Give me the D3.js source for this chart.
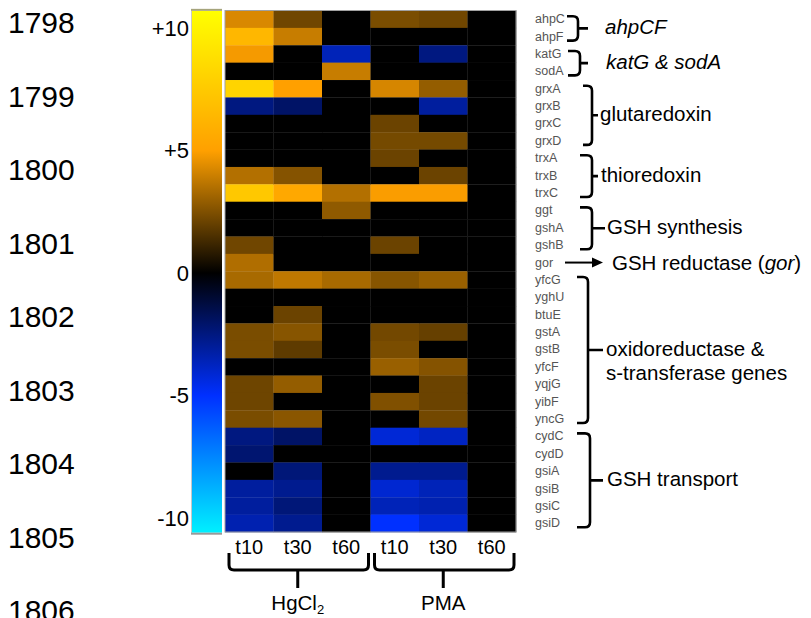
<!DOCTYPE html>
<html>
<head>
<meta charset="utf-8">
<script src="https://cdn.jsdelivr.net/npm/d3@7"></script>
<style>
  body { margin: 0; background: #fff; }
  svg text { font-family: "Liberation Sans", Arial, sans-serif; }
</style>
</head>
<body>
<div id="chart"></div>
<script>
const genes = ['ahpC', 'ahpF', 'katG', 'sodA', 'grxA', 'grxB', 'grxC', 'grxD', 'trxA', 'trxB', 'trxC',
    'ggt', 'gshA', 'gshB', 'gor', 'yfcG', 'yghU', 'btuE', 'gstA', 'gstB', 'yfcF', 'yqjG', 'yibF', 'yncG',
    'cydC', 'cydD', 'gsiA', 'gsiB', 'gsiC', 'gsiD'];
const conditions = ['HgCl2 t10', 'HgCl2 t30', 'HgCl2 t60', 'PMA t10', 'PMA t30', 'PMA t60'];
const timeLabels = ['t10', 't30', 't60', 't10', 't30', 't60'];

// log2-ish fold change per gene, one array per condition
const hgT10 = [4.25, 6.4, 4.8, 0, 8.1, -2.5, 0, 0, 0, 3.5, 7.4, 0, 0, 2.2, 3.45, 3.3, 0, 0, 2.4, 2.4, 0, 2.15, 2.15, 2.4, -2.5, -2.2, 0, -3.1, -3.1, -3.45];
const hgT30 = [2.2, 3.9, 0, 0, 5.0, -2.0, 0, 0, 0, 2.6, 5.5, 0, 0, 0, 0, 3.75, 0, 2.1, 2.65, 1.85, 0, 2.9, 0, 2.7, -2.0, 0, -2.35, -2.8, -2.35, -2.8];
const hgT60 = [0, 0, -3.6, 3.9, 0, 0, 0, 0, 0, 0, 3.5, 2.8, 0, 0, 0, 3.3, 0, 0, 0, 0, 0, 0, 0, 0, 0, 0, 0, 0, 0, 0];
const pmaT10 = [2.4, 0, 0, 0, 4.2, 0, 2.1, 2.3, 2.1, 0, 4.9, 0, 0, 2.1, 0, 2.65, 0, 0, 2.25, 2.4, 3.0, 0, 2.5, 0, -4.2, 0, -2.8, -4.1, -3.6, -5.0];
const pmaT30 = [2.2, 0, -2.5, 0, 2.9, -3.1, 0, 2.3, 0, 2.1, 4.9, 0, 0, 0, 0, 3.0, 0, 0, 2.0, 0, 2.6, 2.1, 2.1, 2.25, -3.8, 0, -2.8, -3.6, -3.45, -4.2];
const pmaT60 = [0, 0, 0, 0, 0, 0, 0, 0, 0, 0, 0, 0, 0, 0, 0, 0, 0, 0, 0, 0, 0, 0, 0, 0, 0, 0, 0, 0, 0, 0];
const series = [hgT10, hgT30, hgT60, pmaT10, pmaT30, pmaT60];

const legendTicks = [10, 5, 0, -5, -10];
const legendLabels = ['+10', '+5', '0', '-5', '-10'];
const lineNumbers = [1798, 1799, 1800, 1801, 1802, 1803, 1804, 1805, 1806];

const groups = [
    { lines: ['ahpCF'], from: 'ahpC', to: 'ahpF', italic: true },
    { lines: ['katG & sodA'], from: 'katG', to: 'sodA', italic: true },
    { lines: ['glutaredoxin'], from: 'grxA', to: 'grxD' },
    { lines: ['thioredoxin'], from: 'trxA', to: 'trxC' },
    { lines: ['GSH synthesis'], from: 'ggt', to: 'gshB' },
    { lines: ['oxidoreductase &', 's-transferase genes'], from: 'yfcG', to: 'yncG' },
    { lines: ['GSH transport'], from: 'cydC', to: 'gsiD' }
];
const treatments = ['HgCl2', 'PMA'];

const width = 811;
const height = 618;

const svg = d3.select('#chart')
    .append('svg')
    .attr('width', width)
    .attr('height', height);

const x = d3.scaleBand().domain(conditions).range([225, 516]);
const y = d3.scaleBand().domain(genes).range([10.5, 532]);
const ly = d3.scaleLinear().domain([-10, 10]).range([518, 28]);

const color = d3.scaleLinear()
    .domain([-10.7, -5, 0, 5, 10.7])
    .range(['#00f0ff', '#0030ff', '#000000', '#ffa000', '#ffff00'])
    .clamp(true);

// line numbers on the far left
const ln = d3.scaleLinear().domain([1798, 1806]).range([33, 621]);
svg.selectAll('.lineno')
    .data(lineNumbers)
    .enter().append('text')
    .attr('x', 8)
    .attr('y', d => ln(d))
    .attr('font-size', 30)
    .attr('fill', '#000')
    .text(d => d);

// colour legend bar
const grad = svg.append('defs').append('linearGradient')
    .attr('id', 'lg')
    .attr('x1', 0).attr('y1', 0).attr('x2', 0).attr('y2', 1);
const barTop = ly(10.7), barBottom = ly(-10.6);
color.domain().slice().reverse().forEach(v => {
    grad.append('stop')
        .attr('offset', (ly(v) - barTop) / (barBottom - barTop))
        .attr('stop-color', color(v));
});
svg.append('rect')
    .attr('x', 191).attr('y', barTop)
    .attr('width', 31).attr('height', barBottom - barTop)
    .attr('fill', 'url(#lg)');
svg.append('line')
    .attr('x1', 191.5).attr('x2', 191.5).attr('y1', barTop).attr('y2', barBottom)
    .attr('stroke', '#c8c8c8');
svg.append('rect')
    .attr('x', 191).attr('y', barTop - 2).attr('width', 31).attr('height', 2)
    .attr('fill', '#a5a47c');
svg.append('rect')
    .attr('x', 191).attr('y', barBottom).attr('width', 31).attr('height', 2)
    .attr('fill', '#999');

const legendAxis = svg.append('g')
    .attr('transform', 'translate(191,0)')
    .call(d3.axisLeft(ly).tickValues(legendTicks).tickSize(0).tickPadding(2)
        .tickFormat((d, i) => legendLabels[i]));
legendAxis.select('.domain').remove();
legendAxis.selectAll('text')
    .attr('font-size', 22)
    .attr('font-family', '"Liberation Sans", Arial, sans-serif')
    .attr('fill', '#000');

// heat map cells
const cells = [];
series.forEach((vals, c) => {
    vals.forEach((v, r) => cells.push({ cond: conditions[c], gene: genes[r], value: v }));
});
svg.append('g')
    .selectAll('rect')
    .data(cells)
    .enter().append('rect')
    .attr('x', d => x(d.cond))
    .attr('y', d => y(d.gene))
    .attr('width', x.bandwidth() + 0.3)
    .attr('height', y.bandwidth() + 0.3)
    .attr('fill', d => color(d.value));

svg.append('rect')
    .attr('x', 225).attr('y', 10.5)
    .attr('width', 291).attr('height', 521.5)
    .attr('fill', 'none')
    .attr('stroke', '#a0a0a0')
    .attr('stroke-width', 1);

// gene names
const geneAxis = svg.append('g')
    .attr('transform', 'translate(516,0)')
    .call(d3.axisRight(y).tickSize(0).tickPadding(19));
geneAxis.select('.domain').remove();
geneAxis.selectAll('text')
    .attr('font-size', 12.5)
    .attr('font-family', '"Liberation Sans", Arial, sans-serif')
    .attr('fill', '#555');

// time points under the columns
const colAxis = svg.append('g')
    .attr('transform', 'translate(0,532)')
    .call(d3.axisBottom(x).tickSize(0).tickPadding(8)
        .tickFormat((d, i) => timeLabels[i]));
colAxis.select('.domain').remove();
colAxis.selectAll('text')
    .attr('font-size', 20)
    .attr('font-family', '"Liberation Sans", Arial, sans-serif')
    .attr('fill', '#000');

// right-hand braces with group names
const braceLayout = {
    'ahpCF': [567, 578, 588, 605],
    'katG & sodA': [568, 580, 588, 606],
    'glutaredoxin': [583, 592, 598, 600],
    'thioredoxin': [580, 592, 598, 601],
    'GSH synthesis': [580, 592, 605, 607],
    'oxidoreductase &': [577, 588, 603, 606],
    'GSH transport': [577, 590, 603, 607]
};
groups.forEach(g => {
    const [x0, x1, xt, tx] = braceLayout[g.lines[0]];
    const y0 = y(g.from) + y.bandwidth() / 2 - 3;
    const y1 = y(g.to) + y.bandwidth() / 2 + 4;
    const ym = (y0 + y1) / 2;
    const r = 5;
    svg.append('path')
        .attr('d', `M${x0},${y0} H${x1 - r} Q${x1},${y0} ${x1},${y0 + r} V${y1 - r} Q${x1},${y1} ${x1 - r},${y1} H${x0}` +
            ` M${x1},${ym} H${xt}`)
        .attr('fill', 'none')
        .attr('stroke', '#000')
        .attr('stroke-width', 2.6);
    const t = svg.append('text')
        .attr('x', tx)
        .attr('y', ym + 6 - (g.lines.length - 1) * 0)
        .attr('font-size', 20.5)
        .attr('font-style', g.italic ? 'italic' : null)
        .attr('fill', '#000');
    g.lines.forEach((line, i) => {
        t.append('tspan').attr('x', tx).attr('dy', i === 0 ? 0 : 24.5).text(line);
    });
});

// gor arrow
const gy = y('gor') + y.bandwidth() / 2;
svg.append('line')
    .attr('x1', 565).attr('x2', 594).attr('y1', gy).attr('y2', gy)
    .attr('stroke', '#000').attr('stroke-width', 2);
svg.append('path')
    .attr('d', `M${592},${gy - 5} L${603},${gy} L${592},${gy + 5} Z`)
    .attr('fill', '#000');
const gt = svg.append('text')
    .attr('x', 612).attr('y', gy + 7)
    .attr('font-size', 20.5)
    .attr('fill', '#000');
gt.append('tspan').text('GSH reductase (');
gt.append('tspan').attr('font-style', 'italic').text('gor');
gt.append('tspan').text(')');

// bottom braces for the two treatments
treatments.forEach((tr, k) => {
    const cols = conditions.filter(c => c.startsWith(tr));
    const x0 = x(cols[0]) + 4;
    const x1 = x(cols[cols.length - 1]) + x.bandwidth() - 2;
    const xm = (x(cols[0]) + x(cols[cols.length - 1]) + x.bandwidth()) / 2;
    const yTop = 553, yH = 570, r = 5;
    svg.append('path')
        .attr('d', `M${x0},${yTop} V${yH - r} Q${x0},${yH} ${x0 + r},${yH} H${x1 - r} Q${x1},${yH} ${x1},${yH - r} V${yTop}` +
            ` M${xm},${yH} V${588}`)
        .attr('fill', 'none')
        .attr('stroke', '#000')
        .attr('stroke-width', 3);
    const t = svg.append('text')
        .attr('x', xm)
        .attr('y', 610)
        .attr('text-anchor', 'middle')
        .attr('font-size', 20.5)
        .attr('fill', '#000');
    if (tr === 'HgCl2') {
        t.append('tspan').text('HgCl');
        t.append('tspan').attr('font-size', 13).attr('dy', 4).text('2');
    } else {
        t.text(tr);
    }
});
</script>
</body>
</html>
